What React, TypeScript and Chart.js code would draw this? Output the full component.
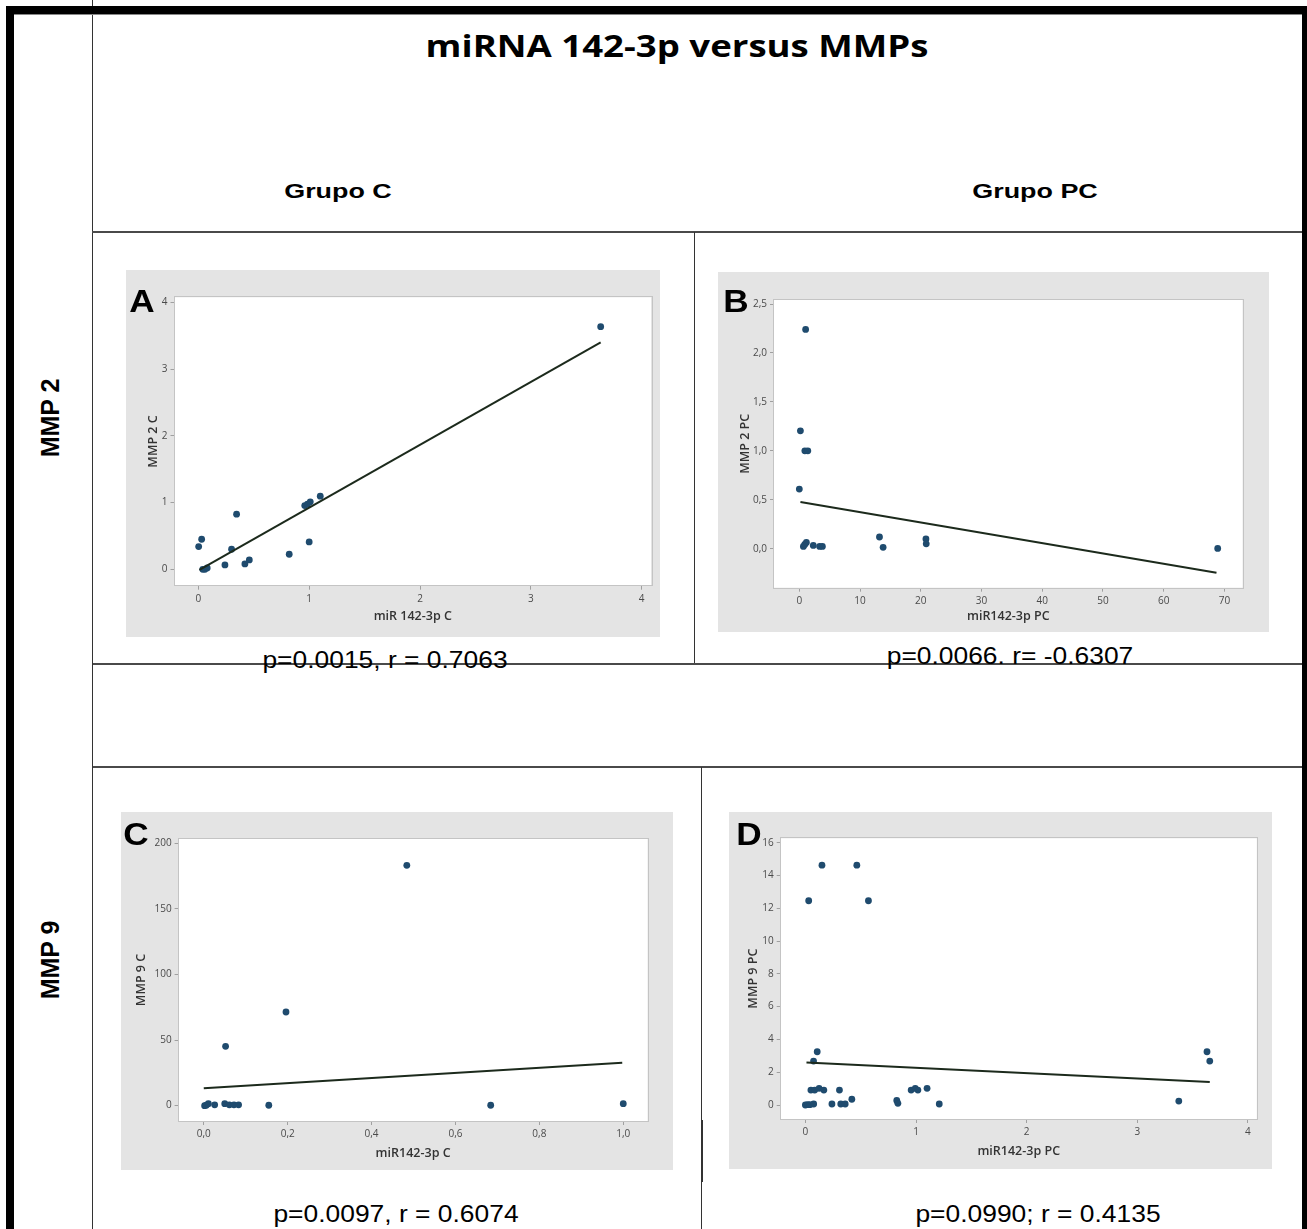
import React, { useEffect, useRef } from 'react';
import { Chart, registerables } from 'chart.js';

Chart.register(...registerables);

// ---------- Panel A : MMP 2 vs miR 142-3p, Grupo C ----------
const aMirC = [3.63, 0.003, 0.03, 0.04, 0.06, 0.08, 0.24, 0.30, 0.345, 0.42, 0.46, 0.82, 0.96, 0.985, 1.01, 1.0, 1.10];
const aMmp2C = [3.635, 0.34, 0.45, 0.0, 0.0, 0.02, 0.065, 0.30, 0.825, 0.08, 0.14, 0.225, 0.955, 0.975, 1.01, 0.41, 1.095];
const aFitX = [0.01, 3.63];
const aFitY = [-0.01, 3.40];
const aXTicks = [0, 1, 2, 3, 4];
const aXTickLabels = ['0', '1', '2', '3', '4'];
const aYTicks = [0, 1, 2, 3, 4];
const aYTickLabels = ['0', '1', '2', '3', '4'];

// ---------- Panel B : MMP 2 vs miR142-3p, Grupo PC ----------
const bMirPC = [1.04, 0.18, 0.91, 1.4, 0.0, 0.67, 0.9, 1.16, 2.3, 3.35, 3.8, 13.2, 13.8, 20.85, 20.9, 68.9];
const bMmp2PC = [2.24, 1.205, 1.0, 1.0, 0.61, 0.024, 0.044, 0.065, 0.034, 0.024, 0.024, 0.12, 0.014, 0.10, 0.05, 0.003];
const bFitX = [0.18, 68.7];
const bFitY = [0.477, -0.245];
const bXTicks = [0, 10, 20, 30, 40, 50, 60, 70];
const bXTickLabels = ['0', '10', '20', '30', '40', '50', '60', '70'];
const bYTicks = [0, 0.5, 1, 1.5, 2, 2.5];
const bYTickLabels = ['0,0', '0,5', '1,0', '1,5', '2,0', '2,5'];

// ---------- Panel C : MMP 9 vs miR142-3p, Grupo C ----------
const cMirC = [0.484, 0.196, 0.052, 0.002, 0.006, 0.011, 0.026, 0.050, 0.061, 0.072, 0.083, 0.155, 0.684, 1.0];
const cMmp9C = [183.2, 71.4, 45.2, 0.0, 0.4, 1.5, 0.6, 1.5, 0.6, 0.6, 0.6, 0.3, 0.3, 1.5];
const cFitX = [0.0, 0.9975];
const cFitY = [13.2, 32.8];
const cXTicks = [0, 0.2, 0.4, 0.6, 0.8, 1.0];
const cXTickLabels = ['0,0', '0,2', '0,4', '0,6', '0,8', '1,0'];
const cYTicks = [0, 50, 100, 150, 200];
const cYTickLabels = ['0', '50', '100', '150', '200'];

// ---------- Panel D : MMP 9 vs miR142-3p, Grupo PC ----------
const dMirPC = [0.15, 0.465, 0.03, 0.57, 0.107, 0.074, 0.05, 0.084, 0.124, 0.167, 0.308, 0.0, 0.02, 0.04, 0.075, 0.24, 0.32, 0.36, 0.42, 0.826, 0.836, 0.956, 0.993, 1.017, 1.10, 1.21, 3.375, 3.63, 3.655];
const dMmp9PC = [14.63, 14.63, 12.46, 12.46, 3.25, 2.68, 0.91, 0.91, 1.02, 0.91, 0.91, 0.0, 0.02, 0.02, 0.06, 0.06, 0.06, 0.06, 0.35, 0.28, 0.1, 0.91, 1.02, 0.91, 1.02, 0.06, 0.24, 3.25, 2.68];
const dFitX = [0.01, 3.655];
const dFitY = [2.60, 1.40];
const dXTicks = [0, 1, 2, 3, 4];
const dXTickLabels = ['0', '1', '2', '3', '4'];
const dYTicks = [0, 2, 4, 6, 8, 10, 12, 14, 16];
const dYTickLabels = ['0', '2', '4', '6', '8', '10', '12', '14', '16'];

// ---------- Texts ----------
const mainTitle = 'miRNA 142-3p versus MMPs';
const groupLabels = ['Grupo C', 'Grupo PC'];
const rowLabels = ['MMP 2', 'MMP 9'];
const statsTexts = ['p=0.0015, r = 0.7063', 'p=0.0066. r= -0.6307', 'p=0.0097, r = 0.6074', 'p=0.0990; r = 0.4135'];

type Geo = {
  box: number[];
  plot: number[];
  xTitleY: number;
  yTitleX: number;
  xr: number[];
  yr: number[];
};

const TICK_FONT = { family: '"Open Sans", "DejaVu Sans", sans-serif', size: 10 };
const TITLE_SIZE = 12.5;

const panelBg = {
  id: 'panelBg',
  beforeDraw(chart: any) {
    const { ctx, chartArea: a, width, height } = chart;
    ctx.save();
    ctx.fillStyle = '#e4e4e4';
    ctx.fillRect(0, 0, width, height);
    ctx.fillStyle = '#ffffff';
    ctx.fillRect(a.left, a.top, a.right - a.left, a.bottom - a.top);
    ctx.restore();
  },
  beforeDatasetsDraw(chart: any) {
    const { ctx, chartArea: a } = chart;
    ctx.save();
    ctx.strokeStyle = '#c4c4c4';
    ctx.lineWidth = 1;
    ctx.strokeRect(Math.round(a.left) - 0.5, Math.round(a.top) - 0.5, Math.round(a.right - a.left) + 1, Math.round(a.bottom - a.top) + 1);
    ctx.restore();
  },
};

function ScatterPanel(props: {
  geo: Geo;
  xs: number[];
  ys: number[];
  fitX: number[];
  fitY: number[];
  xTicks: number[];
  xLabels: string[];
  yTicks: number[];
  yLabels: string[];
  xTitle: string;
  yTitle: string;
}) {
  const ref = useRef<HTMLCanvasElement | null>(null);
  const { geo } = props;
  const [bl, bt, br, bb] = geo.box;
  const W = br - bl;
  const H = bb - bt;

  useEffect(() => {
    if (!ref.current) return;
    const [pl, pt, pr, pb] = geo.plot;
    const leftSpace = pl - bl;
    const topSpace = pt - bt;
    const rightSpace = br - pr;
    const bottomSpace = bb - pb;
    const lh = TITLE_SIZE * 1.2;
    const xTitlePad = Math.max(0, bb - geo.xTitleY - lh / 2);
    const yTitlePad = Math.max(0, geo.yTitleX - bl - lh / 2);

    const tickCfg = (ticks: number[], labels: string[]) => ({
      autoSkip: false,
      maxRotation: 0,
      color: '#4a4a4a',
      font: TICK_FONT,
      padding: 3,
      callback: (v: any) => {
        const i = ticks.indexOf(v);
        return i >= 0 ? labels[i] : '';
      },
    });
    const gridCfg = { display: true, drawOnChartArea: false, drawTicks: true, tickLength: 4, color: '#a0a0a0' };

    const chart = new Chart(ref.current, {
      type: 'scatter',
      data: {
        datasets: [
          {
            data: props.xs.map((x, i) => ({ x, y: props.ys[i] })),
            backgroundColor: '#1f4b6e',
            borderColor: '#1f4b6e',
            pointRadius: 3.4,
            pointBorderWidth: 0,
            order: 2,
          },
          {
            data: props.fitX.map((x, i) => ({ x, y: props.fitY[i] })),
            showLine: true,
            borderColor: '#1c2a1c',
            borderWidth: 2,
            pointRadius: 0,
            fill: false,
            order: 1,
          },
        ],
      } as any,
      options: {
        responsive: false,
        animation: false,
        events: [],
        layout: { padding: { left: 0, top: topSpace, right: rightSpace, bottom: 0 } },
        plugins: { legend: { display: false }, tooltip: { enabled: false } },
        scales: {
          x: {
            type: 'linear',
            min: geo.xr[0],
            max: geo.xr[1],
            afterBuildTicks: (s: any) => {
              s.ticks = props.xTicks.map((v) => ({ value: v }));
            },
            afterFit: (s: any) => {
              s.height = bottomSpace;
            },
            ticks: tickCfg(props.xTicks, props.xLabels),
            grid: gridCfg,
            border: { display: false },
            title: {
              display: true,
              text: props.xTitle,
              color: '#333333',
              font: { family: '"Open Sans", "DejaVu Sans", sans-serif', size: TITLE_SIZE, weight: '600' },
              padding: { top: 0, bottom: xTitlePad },
            },
          },
          y: {
            type: 'linear',
            min: geo.yr[0],
            max: geo.yr[1],
            afterBuildTicks: (s: any) => {
              s.ticks = props.yTicks.map((v) => ({ value: v }));
            },
            afterFit: (s: any) => {
              s.width = leftSpace;
            },
            ticks: tickCfg(props.yTicks, props.yLabels),
            grid: gridCfg,
            border: { display: false },
            title: {
              display: true,
              text: props.yTitle,
              color: '#333333',
              font: { family: '"Open Sans", "DejaVu Sans", sans-serif', size: TITLE_SIZE, weight: '600' },
              padding: { top: yTitlePad, bottom: 0 },
            },
          },
        },
      } as any,
      plugins: [panelBg],
    });
    return () => chart.destroy();
  }, []);

  return (
    <canvas
      ref={ref}
      width={W}
      height={H}
      style={{ position: 'absolute', left: bl, top: bt, width: W, height: H }}
    />
  );
}

function Rect(p: { x: number; y: number; w: number; h: number; c: string }) {
  return <div style={{ position: 'absolute', left: p.x, top: p.y, width: p.w, height: p.h, background: p.c }} />;
}

function Label(p: {
  x: number;
  y: number;
  text: string;
  size: number;
  weight?: any;
  family?: string;
  sx?: number;
  rotate?: number;
}) {
  return (
    <div
      style={{
        position: 'absolute',
        left: p.x,
        top: p.y,
        transform: `translate(-50%, -50%) rotate(${p.rotate || 0}deg) scaleX(${p.sx || 1})`,
        whiteSpace: 'nowrap',
        fontSize: p.size,
        fontWeight: p.weight || 'normal',
        fontFamily: p.family || '"Liberation Sans", Arial, sans-serif',
        lineHeight: 1,
        color: '#000',
        zIndex: 5,
      }}
    >
      {p.text}
    </div>
  );
}

const GEO_A: Geo = { box: [126, 270, 660, 637], plot: [174.5, 297.3, 651, 585.7], xTitleY: 616.7, yTitleX: 153.4, xr: [-0.215, 4.084], yr: [-0.246, 4.075] };
const GEO_B: Geo = { box: [718, 272, 1269, 632], plot: [774, 300, 1242.6, 587.7], xTitleY: 616.7, yTitleX: 745.2, xr: [-4.17, 73.0], yr: [-0.398, 2.541] };
const GEO_C: Geo = { box: [121, 812, 673, 1170], plot: [178.6, 839, 647.6, 1121], xTitleY: 1153, yTitleX: 141.4, xr: [-0.06, 1.058], yr: [-11.7, 203.3] };
const GEO_D: Geo = { box: [729, 812, 1272, 1169], plot: [780.7, 838.3, 1256.8, 1119], xTitleY: 1151.7, yTitleX: 753.6, xr: [-0.223, 4.08], yr: [-0.854, 16.27] };

export default function App() {
  const line = '#4a4a4a';
  return (
    <div
      style={{
        position: 'absolute',
        left: 0,
        top: 0,
        width: 1307,
        height: 1229,
        background: '#ffffff',
        overflow: 'hidden',
      }}
    >
      {/* frame */}
      <Rect x={92} y={0} w={1} h={1229} c="#333" />
      <Rect x={6} y={6} w={1301} h={8} c="#000" />
      <Rect x={6} y={14} w={1296} h={1} c="#888" />
      <Rect x={6} y={6} w={8} h={1223} c="#000" />
      <Rect x={1302} y={6} w={5} h={1223} c="#000" />
      <Rect x={92} y={231} w={1210} h={2} c={line} />
      <Rect x={694} y={232} w={1} h={432} c="#333" />
      <Rect x={93} y={663} w={1209} h={2} c={line} />
      <Rect x={93} y={766} w={1209} h={2} c={line} />
      <Rect x={701} y={767} w={1} h={462} c="#333" />
      <Rect x={701} y={1120} w={2} h={62} c="#333" />

      {/* charts */}
      <ScatterPanel geo={GEO_A} xs={aMirC} ys={aMmp2C} fitX={aFitX} fitY={aFitY} xTicks={aXTicks} xLabels={aXTickLabels} yTicks={aYTicks} yLabels={aYTickLabels} xTitle="miR 142-3p C" yTitle="MMP 2 C" />
      <ScatterPanel geo={GEO_B} xs={bMirPC} ys={bMmp2PC} fitX={bFitX} fitY={bFitY} xTicks={bXTicks} xLabels={bXTickLabels} yTicks={bYTicks} yLabels={bYTickLabels} xTitle="miR142-3p PC" yTitle="MMP 2 PC" />
      <ScatterPanel geo={GEO_C} xs={cMirC} ys={cMmp9C} fitX={cFitX} fitY={cFitY} xTicks={cXTicks} xLabels={cXTickLabels} yTicks={cYTicks} yLabels={cYTickLabels} xTitle="miR142-3p C" yTitle="MMP 9 C" />
      <ScatterPanel geo={GEO_D} xs={dMirPC} ys={dMmp9PC} fitX={dFitX} fitY={dFitY} xTicks={dXTicks} xLabels={dXTickLabels} yTicks={dYTicks} yLabels={dYTickLabels} xTitle="miR142-3p PC" yTitle="MMP 9 PC" />

      {/* texts */}
      <Label x={677} y={45} text={mainTitle} size={31} weight={700} family={'"Open Sans", sans-serif'} sx={1.18} />
      <Label x={337.5} y={190} text={groupLabels[0]} size={21} weight={700} sx={1.28} />
      <Label x={1035} y={190} text={groupLabels[1]} size={21} weight={700} sx={1.28} />
      <Label x={50} y={418} text={rowLabels[0]} size={25} weight={700} rotate={-90} />
      <Label x={50} y={960} text={rowLabels[1]} size={25} weight={700} rotate={-90} />

      <Label x={142} y={301} text="A" size={32} weight={700} sx={1.1} />
      <Label x={735.5} y={301} text="B" size={32} weight={700} sx={1.1} />
      <Label x={136} y={834} text="C" size={32} weight={700} sx={1.1} />
      <Label x={749} y={833.5} text="D" size={32} weight={700} sx={1.1} />

      <Label x={385} y={659.5} text={statsTexts[0]} size={24} sx={1.1} />
      <Label x={1010} y={656} text={statsTexts[1]} size={24} sx={1.1} />
      <Label x={396} y={1213.5} text={statsTexts[2]} size={24} sx={1.1} />
      <Label x={1038} y={1213.5} text={statsTexts[3]} size={24} sx={1.1} />
    </div>
  );
}
